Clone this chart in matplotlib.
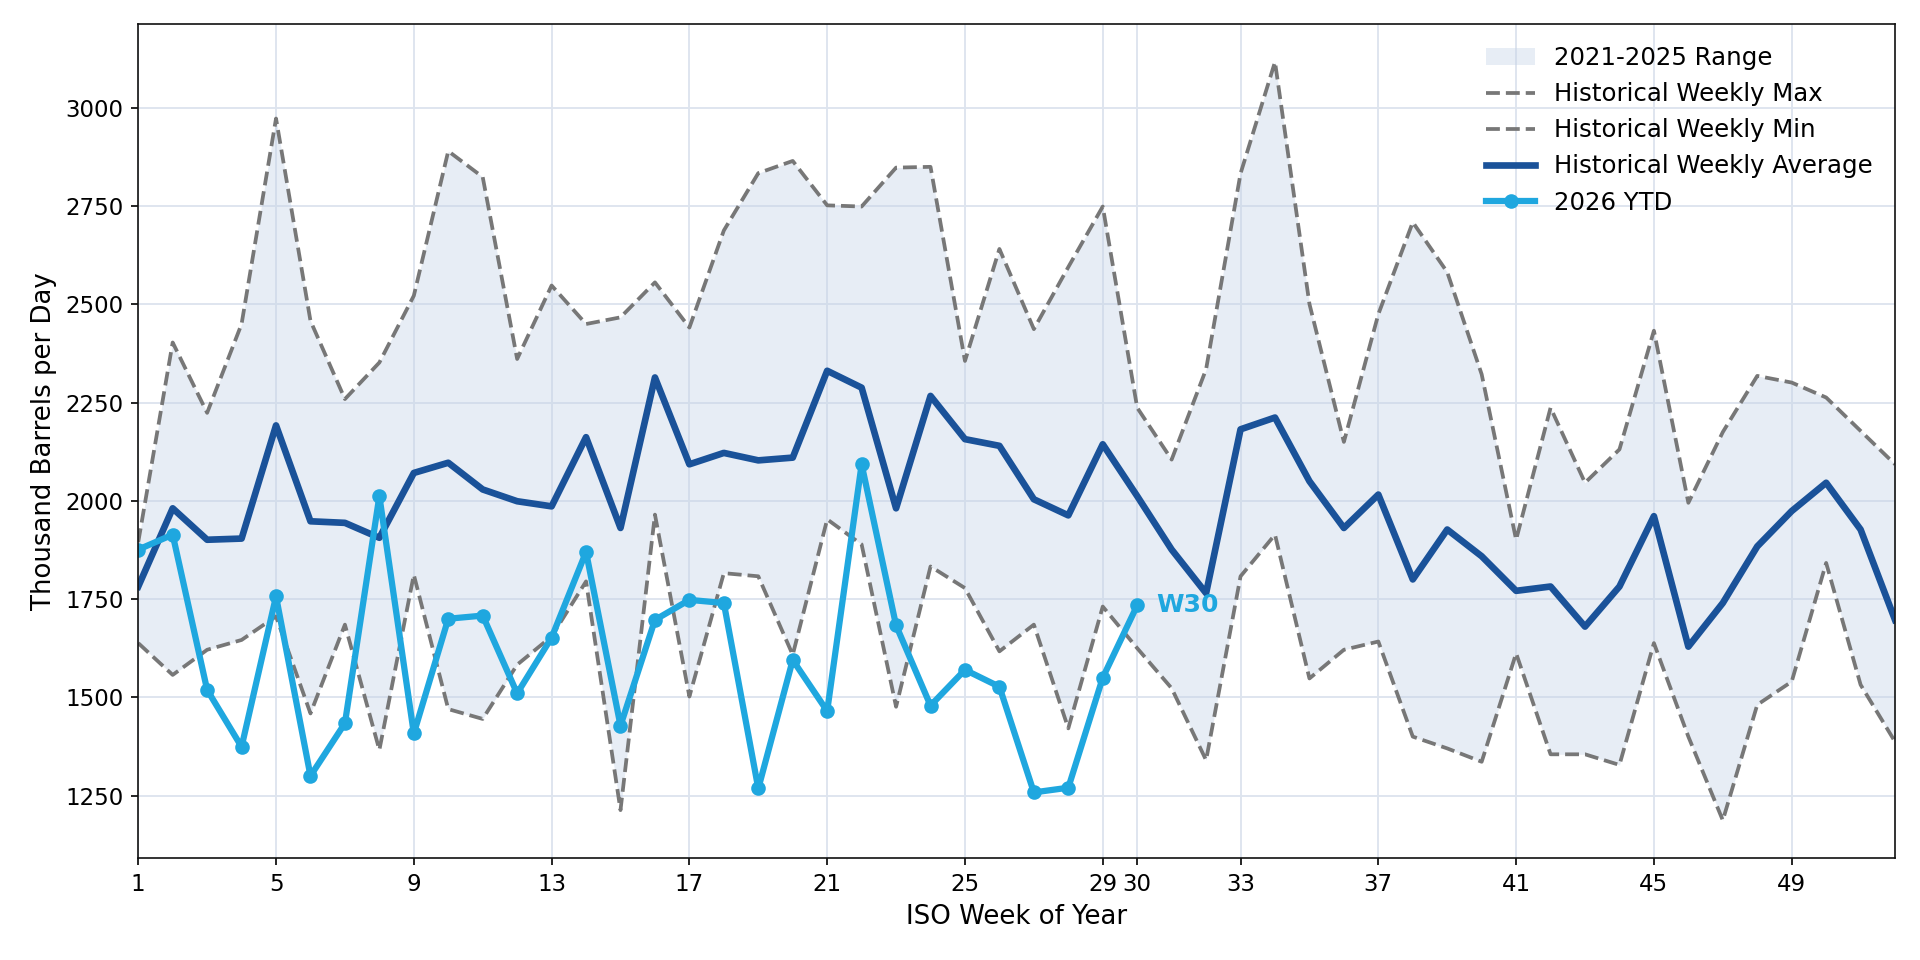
import numpy as np
import matplotlib
matplotlib.use("Agg")
import matplotlib.pyplot as plt

# ISO weeks
weeks = np.arange(1, 53)
ytd_weeks = np.arange(1, 31)

# 2021-2025 historical stats (thousand b/d)
hist_max = [1895, 2403, 2224, 2450, 2973, 2458, 2259, 2352, 2522, 2890,
            2824, 2361, 2548, 2450, 2467, 2556, 2441, 2688, 2834, 2865,
            2752, 2749, 2848, 2850, 2356, 2641, 2437, 2595, 2749, 2237,
            2105, 2335, 2833, 3117, 2501, 2150, 2475, 2709, 2582, 2322,
            1901, 2237, 2046, 2131, 2433, 1995, 2175, 2318, 2301, 2263,
            2178, 2093]
hist_min = [1638, 1557, 1621, 1646, 1706, 1459, 1685, 1366, 1812, 1470,
            1445, 1583, 1655, 1795, 1213, 1965, 1502, 1816, 1808, 1608,
            1953, 1889, 1476, 1833, 1778, 1617, 1685, 1421, 1731, 1625,
            1523, 1340, 1808, 1914, 1548, 1621, 1642, 1400, 1370, 1336,
            1612, 1355, 1355, 1328, 1638, 1400, 1187, 1481, 1540, 1842,
            1532, 1387]
hist_avg = [1782, 1981, 1901, 1904, 2192, 1948, 1944, 1906, 2071, 2097,
            2029, 1999, 1986, 2162, 1931, 2314, 2093, 2122, 2103, 2110,
            2331, 2288, 1981, 2267, 2157, 2140, 2004, 1963, 2144, 2012,
            1876, 1765, 2182, 2212, 2050, 1931, 2016, 1800, 1927, 1859,
            1771, 1782, 1680, 1782, 1961, 1629, 1740, 1884, 1974, 2046,
            1927, 1697]

# 2026 year to date
ytd = [1876, 1914, 1519, 1374, 1757, 1300, 1434, 2012, 1408, 1700,
       1708, 1510, 1652, 1870, 1428, 1697, 1748, 1740, 1268, 1595,
       1465, 2093, 1683, 1479, 1570, 1527, 1258, 1270, 1550, 1734]

xticks = [1, 5, 9, 13, 17, 21, 25, 29, 30, 33, 37, 41, 45, 49]

dark_blue = "#1a5299"
light_blue = "#1fa7df"

fig, ax = plt.subplots(figsize=(12.8, 6.4), dpi=150)
fig.subplots_adjust(left=0.072, right=0.987, top=0.975, bottom=0.106)

ax.fill_between(weeks, hist_min, hist_max, color="#c5d3e6", alpha=0.4,
                linewidth=0, label="2021-2025 Range")
ax.plot(weeks, hist_max, "--", color="#777777", lw=1.8, label="Historical Weekly Max")
ax.plot(weeks, hist_min, "--", color="#777777", lw=1.8, label="Historical Weekly Min")
ax.plot(weeks, hist_avg, color=dark_blue, lw=3.2, label="Historical Weekly Average")
ax.plot(ytd_weeks, ytd, color=light_blue, lw=3.0, marker="o", markersize=6,
        label="2026 YTD")

ax.annotate("W30", xy=(ytd_weeks[-1], ytd[-1]), xytext=(9, 0),
            textcoords="offset points", color=light_blue, fontsize=12,
            fontweight="bold", va="center", ha="left")

ax.set_xlim(1, 52)
ax.set_xticks(xticks)
ax.tick_params(labelsize=11)
ax.set_xlabel("ISO Week of Year", fontsize=12.5)
ax.set_ylabel("Thousand Barrels per Day", fontsize=12.5)
ax.grid(True, color="#dde4ee", lw=0.9)
ax.set_axisbelow(True)
for s in ax.spines.values():
    s.set_color("#111111")

ax.legend(loc="upper right", frameon=False, fontsize=11.7)

fig.savefig("out.png", dpi=150)
